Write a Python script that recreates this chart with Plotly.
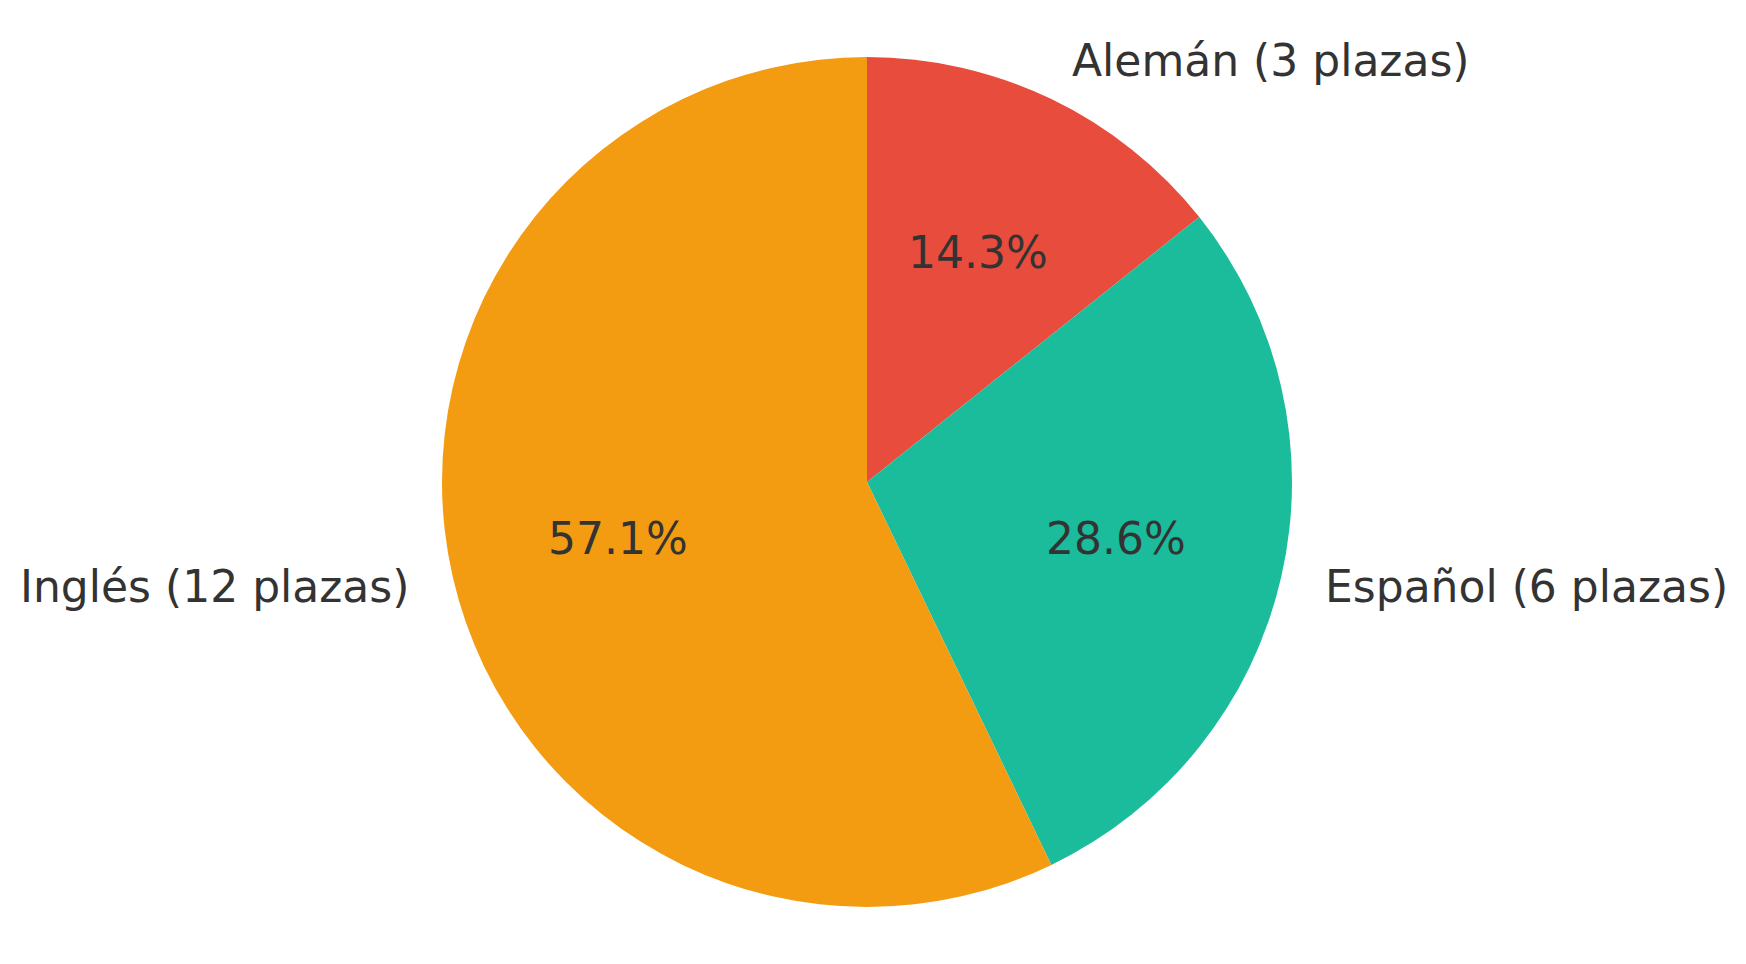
import math
import plotly.graph_objects as go

labels = ["Alemán", "Español", "Inglés"]
values = [3, 6, 12]
colors = ["#e74c3c", "#1abc9c", "#f39c12"]

W, H = 1746, 964
cx, cy, R = 859, 474, 425

fig = go.Figure(go.Pie(
    labels=labels, values=values, sort=False, direction="clockwise", rotation=0,
    marker=dict(colors=colors, line=dict(width=0)), textinfo="none",
    hoverinfo="label+percent", showlegend=False,
    domain=dict(x=[(cx - R) / W, (cx + R) / W], y=[1 - (cy + R) / H, 1 - (cy - R) / H]),
))

total = sum(values)
ann = []
start = 90.0
for lab, v in zip(labels, values):
    span = 360.0 * v / total
    mid = math.radians(start - span / 2)
    start -= span
    c, s = math.cos(mid), math.sin(mid)
    lx, ly = cx + 1.1 * R * c, cy - 1.1 * R * s
    ann.append(dict(x=lx / W, y=1 - ly / H, xref="paper", yref="paper",
                    text=f"{lab} ({v} plazas)", showarrow=False,
                    xanchor="left" if c > 0 else "right", yanchor="middle",
                    font=dict(size=44, color="#333333", family="DejaVu Sans")))
    px, py = cx + 0.6 * R * c, cy - 0.6 * R * s
    ann.append(dict(x=px / W, y=1 - py / H, xref="paper", yref="paper",
                    text=f"{100 * v / total:.1f}%", showarrow=False,
                    xanchor="center", yanchor="middle",
                    font=dict(size=44, color="#333333", family="DejaVu Sans")))

fig.update_layout(width=W, height=H, margin=dict(l=0, r=0, t=0, b=0),
                  paper_bgcolor="white", annotations=ann)
fig.write_html("out.html")
